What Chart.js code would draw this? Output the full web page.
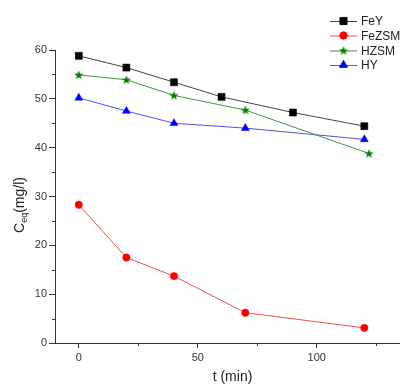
<!DOCTYPE html>
<html>
<head>
<meta charset="utf-8">
<script src="https://cdn.jsdelivr.net/npm/chart.js@4"></script>
<style>
  html, body { margin: 0; padding: 0; background: #fff; }
  #wrap { width: 400px; height: 385px; }
</style>
</head>
<body>
<div id="wrap"><canvas id="chart" width="400" height="385"></canvas></div>
<script>
// Data
const seriesNames = ['FeY', 'FeZSM', 'HZSM', 'HY'];
const timeFeY = [0, 20, 40, 60, 90, 120];
const ceqFeY = [58.8, 56.4, 53.4, 50.4, 47.2, 44.4];
const timeFeZSM = [0, 20, 40, 70, 120];
const ceqFeZSM = [28.3, 17.5, 13.7, 6.2, 3.1];
const timeHZSM = [0, 20, 40, 70, 122];
const ceqHZSM = [54.9, 53.9, 50.7, 47.7, 38.8];
const timeHY = [0, 20, 40, 70, 120];
const ceqHY = [50.2, 47.5, 45.0, 44.0, 41.7];
const xTicks = [0, 50, 100];
const xMinorTicks = [25, 75, 125];
const yTicks = [0, 10, 20, 30, 40, 50, 60];
const yMinorTicks = [5, 15, 25, 35, 45, 55];

const FONT = '"Liberation Sans", Arial, sans-serif';
const AXIS_COLOR = '#333';

// filled five-point star marker for HZSM
function makeStar(color) {
  const c = document.createElement('canvas');
  c.width = 10; c.height = 10;
  const g = c.getContext('2d');
  g.fillStyle = color;
  g.beginPath();
  for (let i = 0; i < 10; i++) {
    const r = i % 2 === 0 ? 4.9 : 2.0;
    const a = -Math.PI / 2 + i * Math.PI / 5;
    const px = 5 + r * Math.cos(a);
    const py = 5.3 + r * Math.sin(a);
    if (i === 0) g.moveTo(px, py); else g.lineTo(px, py);
  }
  g.closePath();
  g.fill();
  return c;
}
const starImg = makeStar('#008000');

function toPoints(xs, ys) {
  return xs.map((x, i) => ({ x, y: ys[i] }));
}

const datasets = [
  { label: seriesNames[0], data: toPoints(timeFeY, ceqFeY), borderColor: '#444', backgroundColor: '#000',
    pointStyle: 'rect', pointRadius: 5, pointBorderColor: '#000', pointBackgroundColor: '#000' },
  { label: seriesNames[1], data: toPoints(timeFeZSM, ceqFeZSM), borderColor: '#ea5050', backgroundColor: '#ff0000',
    pointStyle: 'circle', pointRadius: 3.7, pointBorderColor: '#ff0000', pointBackgroundColor: '#ff0000' },
  { label: seriesNames[2], data: toPoints(timeHZSM, ceqHZSM), borderColor: '#4a8f4a', backgroundColor: '#008000',
    pointStyle: starImg, pointRadius: 5 },
  { label: seriesNames[3], data: toPoints(timeHY, ceqHY), borderColor: '#5050f0', backgroundColor: '#0000ff',
    pointStyle: 'triangle', pointRadius: 4.6, pointBorderColor: '#0000ff', pointBackgroundColor: '#0000ff' }
];
datasets.forEach(d => {
  d.borderWidth = 1;
  d.pointBorderWidth = 0.5;
  d.pointHoverRadius = d.pointRadius;
  d.tension = 0;
});

// minor ticks, axis titles and the legend box in the corner
const extrasPlugin = {
  id: 'extras',
  afterDraw(chart) {
    const ctx = chart.ctx;
    const xs = chart.scales.x;
    const ys = chart.scales.y;
    const area = chart.chartArea;
    ctx.save();
    ctx.strokeStyle = AXIS_COLOR;
    ctx.lineWidth = 1;
    ctx.beginPath();
    yMinorTicks.forEach(v => {
      const py = Math.round(ys.getPixelForValue(v)) + 0.5;
      ctx.moveTo(area.left - 3, py);
      ctx.lineTo(area.left, py);
    });
    xMinorTicks.forEach(v => {
      const px = Math.round(xs.getPixelForValue(v)) + 0.5;
      ctx.moveTo(px, area.bottom);
      ctx.lineTo(px, area.bottom + 3);
    });
    ctx.stroke();

    // x title
    ctx.fillStyle = '#222';
    ctx.font = '14px ' + FONT;
    ctx.textAlign = 'center';
    ctx.textBaseline = 'middle';
    ctx.fillText('t (min)', (area.left + area.right) / 2 + 5, 377);

    // y title: C with subscript eq, then (mg/l)
    ctx.translate(19, 205);
    ctx.rotate(-Math.PI / 2);
    ctx.textAlign = 'left';
    ctx.textBaseline = 'alphabetic';
    const big = '14px ' + FONT;
    const small = '9px ' + FONT;
    ctx.font = big;
    const wC = ctx.measureText('C').width;
    ctx.font = small;
    const wSub = ctx.measureText('eq').width;
    ctx.font = big;
    const wRest = ctx.measureText('(mg/l)').width;
    let tx = -(wC + wSub + wRest) / 2;
    ctx.fillText('C', tx, 5);
    tx += wC;
    ctx.font = small;
    ctx.fillText('eq', tx, 8);
    tx += wSub;
    ctx.font = big;
    ctx.fillText('(mg/l)', tx, 5);
    ctx.restore();

    // legend
    ctx.save();
    const rowsY = [21, 35.5, 50.5, 65];
    chart.data.datasets.forEach((ds, i) => {
      const y = rowsY[i];
      ctx.strokeStyle = ds.borderColor;
      ctx.lineWidth = 1;
      ctx.beginPath();
      ctx.moveTo(330, y + 0.5);
      ctx.lineTo(357, y + 0.5);
      ctx.stroke();
      ctx.fillStyle = ds.pointBackgroundColor || ds.backgroundColor;
      ctx.strokeStyle = ds.pointBorderColor || ds.backgroundColor;
      Chart.helpers.drawPoint(ctx, {
        pointStyle: ds.pointStyle,
        radius: ds.pointRadius,
        rotation: 0,
        borderWidth: 0.5
      }, 343.5, y);
      ctx.fillStyle = '#222';
      ctx.font = '12px ' + FONT;
      ctx.textAlign = 'left';
      ctx.textBaseline = 'middle';
      ctx.fillText(ds.label, 361, y + 1);
    });
    ctx.restore();
  }
};

new Chart(document.getElementById('chart'), {
  type: 'line',
  data: { datasets },
  options: {
    responsive: false,
    animation: false,
    layout: { autoPadding: false, padding: { top: 50, right: 0, left: 0, bottom: 0 } },
    plugins: { legend: { display: false }, tooltip: { enabled: false } },
    scales: {
      x: {
        type: 'linear',
        min: -10,
        max: 135,
        afterBuildTicks: s => { s.ticks = xTicks.map(v => ({ value: v })); },
        afterFit: s => { s.height = 42; },
        grid: { drawOnChartArea: false, drawTicks: true, tickLength: 5, color: AXIS_COLOR },
        border: { display: true, color: AXIS_COLOR, width: 1 },
        ticks: { color: '#333', font: { family: FONT, size: 11 }, padding: 3, maxRotation: 0 }
      },
      y: {
        type: 'linear',
        min: 0,
        max: 60,
        afterBuildTicks: s => { s.ticks = yTicks.map(v => ({ value: v })); },
        afterFit: s => { s.width = 55; },
        grid: { drawOnChartArea: false, drawTicks: true, tickLength: 6, color: AXIS_COLOR },
        border: { display: true, color: AXIS_COLOR, width: 1 },
        ticks: { color: '#333', font: { family: FONT, size: 11 }, padding: 2 }
      }
    }
  },
  plugins: [extrasPlugin]
});
</script>
</body>
</html>
